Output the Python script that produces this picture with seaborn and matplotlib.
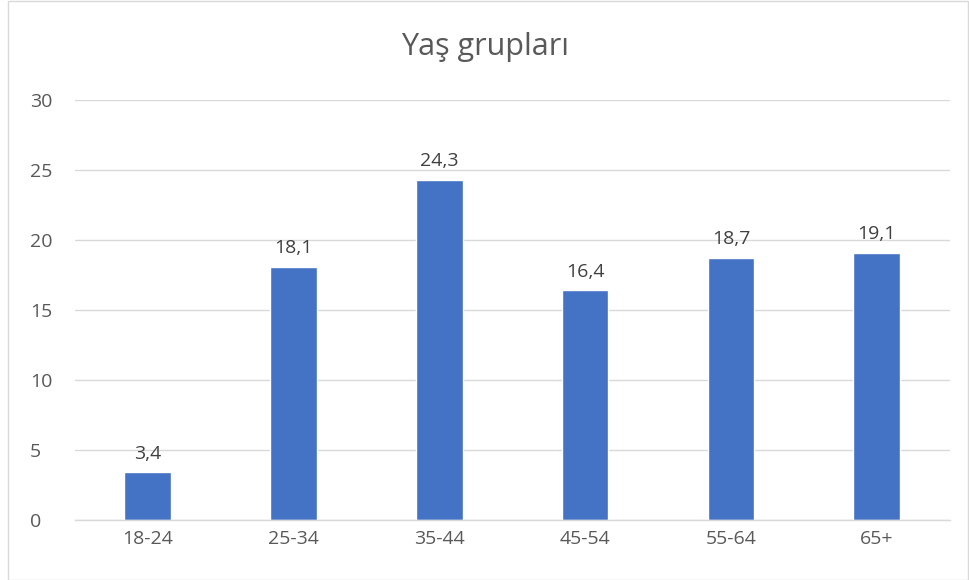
import matplotlib
matplotlib.use("Agg")
import matplotlib.pyplot as plt
import seaborn as sns
import pandas as pd
from matplotlib.patches import Rectangle

categories = ["18-24", "25-34", "35-44", "45-54", "55-64", "65+"]
values = [3.4, 18.1, 24.3, 16.4, 18.7, 19.1]
value_labels = ["3,4", "18,1", "24,3", "16,4", "18,7", "19,1"]
yticks = [0, 5, 10, 15, 20, 25, 30]
title = "Yaş grupları"

sns.set_theme(style="white")
plt.rcParams['font.family'] = ['Open Sans', 'DejaVu Sans']

df = pd.DataFrame({"grp": categories, "val": values})

fig = plt.figure(figsize=(9.7, 5.8), dpi=100)
ax = fig.add_axes([0.077, 0.1034, 0.902, 0.7242])
sns.barplot(data=df, x="grp", y="val", color="#4472C4", width=0.32,
            saturation=1, ax=ax, zorder=3)

ax.set_xlim(-0.5, 5.5)
ax.set_ylim(0, 30)
ax.set_yticks(yticks)
ax.set_yticklabels([str(t) for t in yticks])
ax.yaxis.grid(True, color="#D9D9D9", linewidth=1, zorder=0)
ax.xaxis.grid(False)
for s in ["top", "right", "left"]:
    ax.spines[s].set_visible(False)
ax.spines["bottom"].set_color("#D9D9D9")
ax.spines["bottom"].set_linewidth(1)
ax.spines["bottom"].set_zorder(4)
ax.tick_params(axis="both", length=0, colors="#595959", labelsize=14)
ax.tick_params(axis="x", pad=7)
ax.tick_params(axis="y", pad=32)
for lbl in ax.get_yticklabels():
    lbl.set_horizontalalignment("left")
ax.set_xlabel("")
ax.set_ylabel("")

for i, (v, t) in enumerate(zip(values, value_labels)):
    ax.annotate(t, (i, v), xytext=(0, 7), textcoords="offset points",
                ha="center", va="bottom", fontsize=14, color="#404040")

fig.text(0.5, 1 - 47 / 580, title, ha="center", va="center",
         fontsize=22, color="#595959")

fig.patches.append(Rectangle((0.008, 0.0), 0.99, 0.998, transform=fig.transFigure,
                             fill=False, edgecolor="#D9D9D9", linewidth=1))

fig.savefig("out.png", dpi=100)
